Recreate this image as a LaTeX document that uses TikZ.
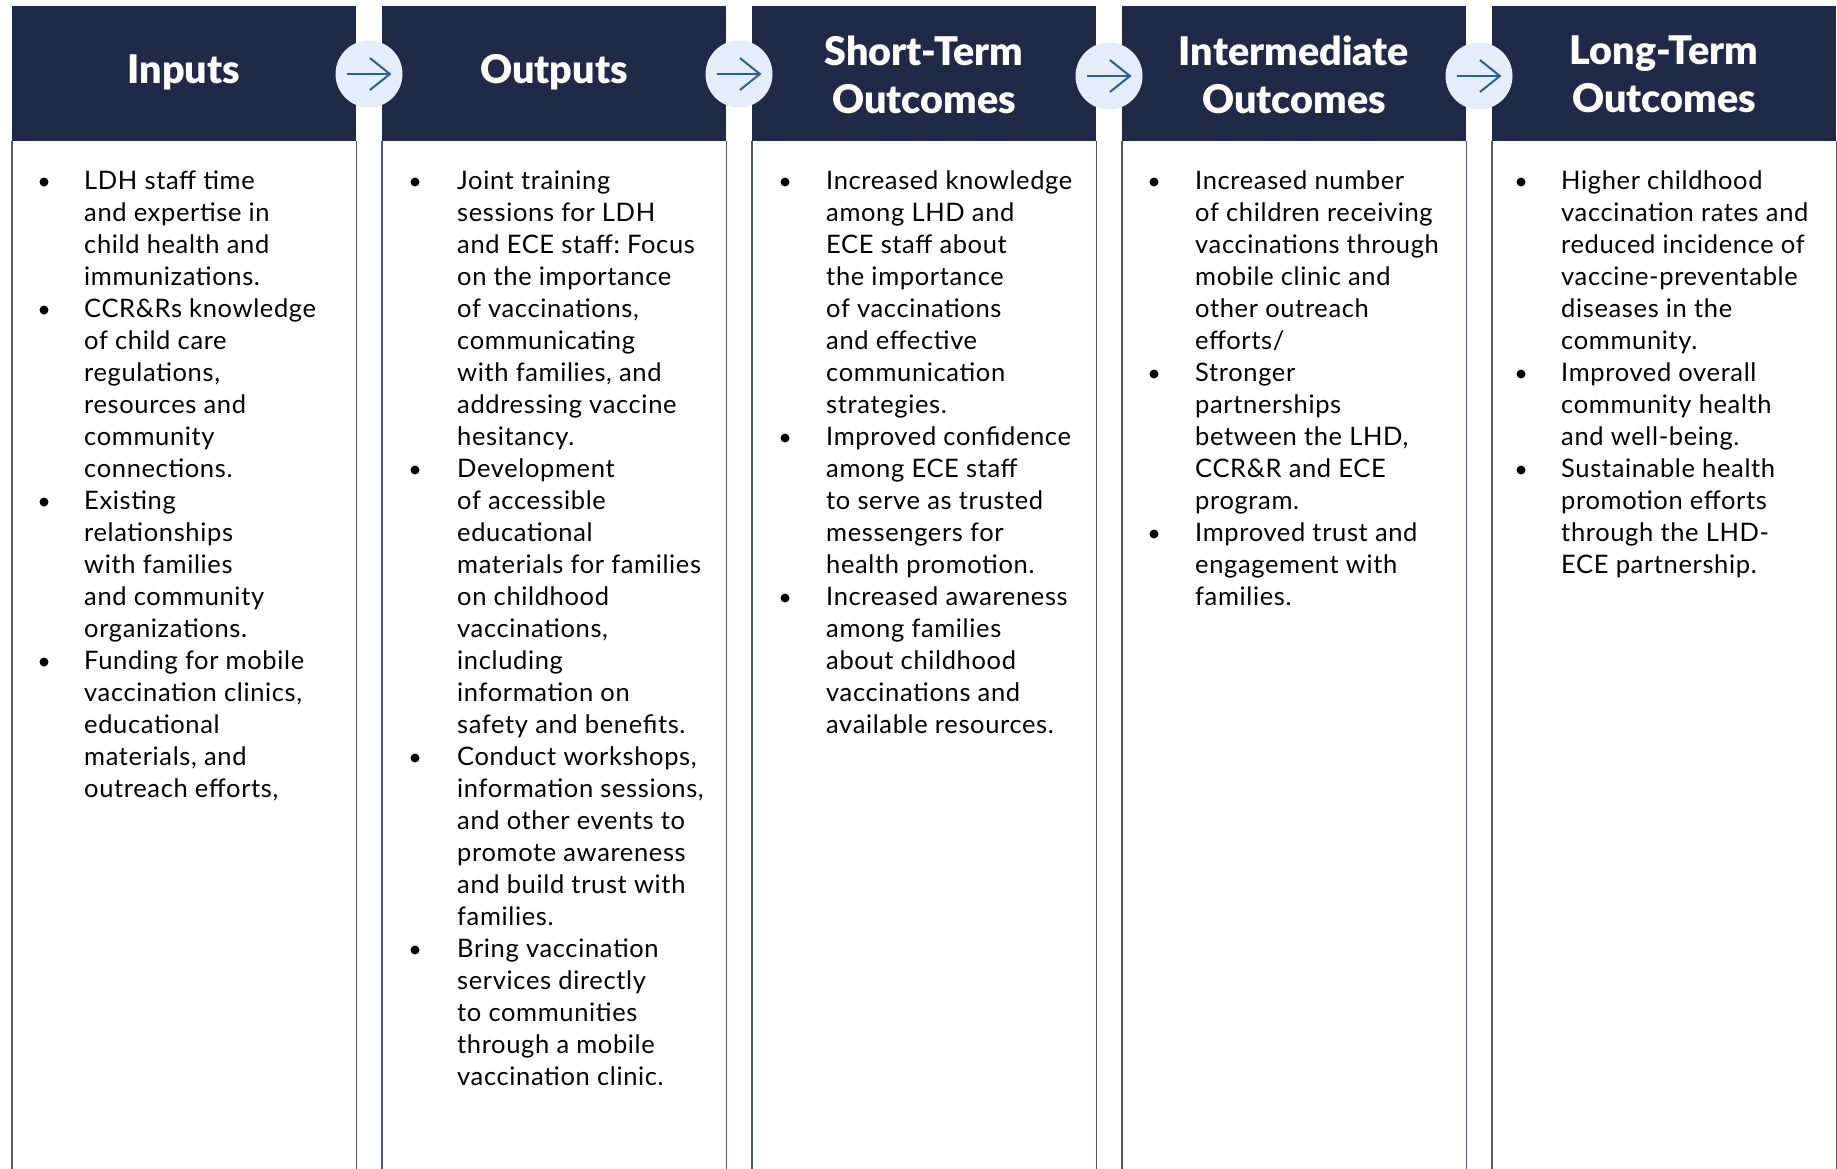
\documentclass[tikz,border=0pt]{standalone}
\usepackage{fontspec}
\setmainfont{Lato}
\newfontfamily\bodyfam{Lato}[LetterSpace=2.5]
\newfontfamily\headfam{Lato Black}
\usetikzlibrary{arrows.meta}
\definecolor{navy}{HTML}{1F2A48}
\definecolor{circfill}{HTML}{E3EEFA}
\definecolor{arrowblue}{HTML}{2E5E96}
\definecolor{edgecol}{HTML}{4F5A78}
\frenchspacing
\newcommand{\bodysize}{\bodyfam\fontsize{25.5}{32}\selectfont\frenchspacing}
\newcommand{\headsize}{\headfam\fontsize{39.5}{48}\selectfont}
\newcommand{\listitem}[5]{%
  \node[bulletdot] (#1b) at (#2, 182+32*#4) {};
  \node[bodytext] (#1) at (#3, 189+32*#4) {\begin{tabular}[t]{@{}l@{}}#5\end{tabular}};}
\begin{document}
\begin{tikzpicture}[x=1pt,y=-1pt,
  header/.style={fill=navy, minimum width=344pt, minimum height=135pt, inner sep=0pt, anchor=north west},
  headtext/.style={text=white, font=\headsize, align=center, inner sep=0pt},
  bodytext/.style={anchor=base west, inner sep=0pt, font=\bodysize},
  bulletdot/.style={circle, fill=black, minimum size=9pt, inner sep=0pt},
  flowcirc/.style={circle, fill=circfill, minimum size=67pt, inner sep=0pt},
  flowarrow/.style={draw=arrowblue, line width=2pt, -{Straight Barb[length=20pt,width=32pt]}},
  colline/.style={draw=edgecol, line width=1.5pt}]
\useasboundingbox (0,0) rectangle (1837,1168);
\fill[white] (0,0) rectangle (1837,1168);

% headers
\node[header] (h1) at (12,6) {};
\node[header] (h2) at (382,6) {};
\node[header] (h3) at (752,6) {};
\node[header] (h4) at (1122,6) {};
\node[header] (h5) at (1492,6) {};
\node[headtext] (t1) at (184,72) {Inputs};
\node[headtext] (t2) at (554,72) {Outputs};
\node[headtext] (t3) at (924,74.5) {Short-Term\\Outcomes};
\node[headtext] (t4) at (1294,74.5) {Intermediate\\Outcomes};
\node[headtext] (t5) at (1664,74.5) {Long-Term\\Outcomes};

% column borders
\foreach \h in {h1,h2,h3,h4,h5} {
  \draw[colline] (\h.south west) -- ++(0,1030);
  \draw[colline] (\h.south east) -- ++(0,1030);
}

% flow arrows
\node[flowcirc] (c1) at (369,74) {};
\node[flowcirc] (c2) at (739,74) {};
\node[flowcirc] (c3) at (1109,76) {};
\node[flowcirc] (c4) at (1479,76) {};
\foreach \c in {c1,c2,c3,c4} {
  \draw[flowarrow] ([xshift=-22.5pt]\c.center) -- ([xshift=22.5pt]\c.center);
}

% Inputs
\listitem{ia}{44}{84}{0}{LDH staff time\\and expertise in\\child health and\\immunizations.}
\listitem{ib}{44}{84}{4}{CCR\&Rs knowledge\\of child care\\regulations,\\resources and\\community\\connections.}
\listitem{ic}{44}{84}{10}{Existing\\relationships\\with families\\and community\\organizations.}
\listitem{id}{44}{84}{15}{Funding for mobile\\vaccination clinics,\\educational\\materials, and\\outreach efforts,}

% Outputs
\listitem{oa}{415}{457}{0}{Joint training\\sessions for LDH\\and ECE staff: Focus\\on the importance\\of vaccinations,\\communicating\\with families, and\\addressing vaccine\\hesitancy.}
\listitem{ob}{415}{457}{9}{Development\\of accessible\\educational\\materials for families\\on childhood\\vaccinations,\\including\\information on\\safety and benefits.}
\listitem{oc}{415}{457}{18}{Conduct workshops,\\information sessions,\\and other events to\\promote awareness\\and build trust with\\families.}
\listitem{od}{415}{457}{24}{Bring vaccination\\services directly\\to communities\\through a mobile\\vaccination clinic.}

% Short-Term
\listitem{sa}{785}{826}{0}{Increased knowledge\\among LHD and\\ECE staff about\\the importance\\of vaccinations\\and effective\\communication\\strategies.}
\listitem{sb}{785}{826}{8}{Improved confidence\\among ECE staff\\to serve as trusted\\messengers for\\health promotion.}
\listitem{sc}{785}{826}{13}{Increased awareness\\among families\\about childhood\\vaccinations and\\available resources.}

% Intermediate
\listitem{ma}{1154}{1195}{0}{Increased number\\of children receiving\\vaccinations through\\mobile clinic and\\other outreach\\efforts/}
\listitem{mb}{1154}{1195}{6}{Stronger\\partnerships\\between the LHD,\\CCR\&R and ECE\\program.}
\listitem{mc}{1154}{1195}{11}{Improved trust and\\engagement with\\families.}

% Long-Term
\listitem{la}{1521}{1561}{0}{Higher childhood\\vaccination rates and\\reduced incidence of\\vaccine-preventable\\diseases in the\\community.}
\listitem{lb}{1521}{1561}{6}{Improved overall\\community health\\and well-being.}
\listitem{lc}{1521}{1561}{9}{Sustainable health\\promotion efforts\\through the LHD-\\ECE partnership.}
\end{tikzpicture}
\end{document}
